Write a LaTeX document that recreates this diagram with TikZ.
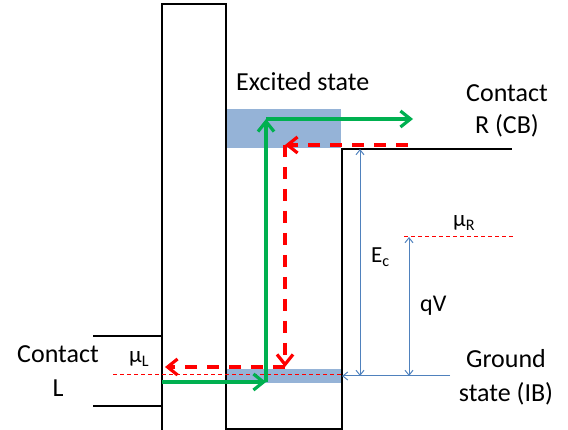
\documentclass[tikz,border=0pt]{standalone}
\usepackage{fontspec}
\setmainfont{Carlito}
\usetikzlibrary{arrows.meta}
\definecolor{gr}{HTML}{00B050}
\definecolor{rd}{HTML}{FF0000}
\definecolor{boxblue}{HTML}{95B3D7}
\definecolor{lineblue}{HTML}{4F81BD}
\begin{document}
\begin{tikzpicture}[x=1pt,y=-1pt,
  wall/.style={draw=black,line width=1.6pt},
  statebox/.style={fill=boxblue,draw=none,inner sep=0pt,outer sep=0pt,anchor=north west},
  greenarrow/.style={draw=gr,line width=3.2pt,-{Straight Barb[length=10pt,width=16pt]}},
  redarrow/.style={draw=rd,line width=3.2pt,dash pattern=on 12pt off 10pt,-{Straight Barb[length=10pt,width=16pt]}},
  level/.style={draw=rd,line width=1pt,dash pattern=on 4pt off 3pt},
  bluearrow/.style={draw=lineblue,line width=1pt,-{Straight Barb[length=5pt,width=8pt]}},
  bluearrows/.style={draw=lineblue,line width=1pt,{Straight Barb[length=5pt,width=8pt]}-{Straight Barb[length=5pt,width=8pt]}},
  lbl/.style={font=\fontsize{26}{31}\selectfont,inner sep=0pt,anchor=base},
  sym/.style={font=\fontsize{23}{27}\selectfont,inner sep=0pt,anchor=base west},
  sym2/.style={font=\fontsize{24}{28}\selectfont,inner sep=0pt,anchor=base west}
]
\useasboundingbox (0,0) rectangle (568,430);

% state boxes
\node[statebox,minimum width=114pt,minimum height=39pt] (excited) at (227,109) {};
\node[statebox,minimum width=115pt,minimum height=14pt] (ground) at (227,369) {};

% band edges
\draw[wall] (162,430) -- (162,4) -- (226,4) -- (226,429) -- (342,429) -- (342,149) -- (512,149);
\draw[wall] (93,336) -- (162,336);
\draw[wall] (93,406) -- (162,406);

% chemical potentials
\coordinate (muLa) at (113,375);
\coordinate (muLb) at (342,375);
\coordinate (muRa) at (404,237);
\coordinate (muRb) at (515,237);
\draw[level] (muLa) -- (muLb);
\draw[level] (muRa) -- (muRb);

% blue dimension arrows
\coordinate (gsLine) at (450,376);
\coordinate (gsTip) at (342,376);
\coordinate (ecTop) at (360,149);
\coordinate (ecBot) at (360,376);
\coordinate (qvTop) at (409,237);
\coordinate (qvBot) at (409,376);
\draw[bluearrow] (gsLine) -- (gsTip);
\draw[bluearrows] (ecTop) -- (ecBot);
\draw[bluearrows] (qvTop) -- (qvBot);

% green path
\coordinate (gL) at (162,382);
\coordinate (gUp) at (266,382);
\coordinate (gTop) at (266,119);
\coordinate (gR) at (413,119);
\draw[greenarrow] (gL) -- (gUp);
\draw[greenarrow] (gUp) -- (gTop);
\draw[greenarrow] (gTop) -- (gR);

% red path
\coordinate (rStart) at (408,145);
\coordinate (rCorner) at (285,145);
\coordinate (rDown) at (285,367);
\coordinate (rEnd) at (165,367);
\draw[redarrow] (rStart) -- (rCorner);
\draw[redarrow] (rCorner) -- (rDown);
\draw[redarrow] (rDown) -- (rEnd);

% labels
\node[lbl,anchor=base west] (excitedlbl) at (236,91) {Excited state};
\node[lbl] (contactR1) at (507,102) {Contact};
\node[lbl] (contactR2) at (507,134) {R (CB)};
\node[lbl] (ground1) at (506,368) {Ground};
\node[lbl] (ground2) at (506,402) {state (IB)};
\node[lbl] (contactL1) at (58,363) {Contact};
\node[lbl] (contactL2) at (58,397) {L};
\node[sym] (muL) at (129,363) {μ\textsubscript{L}};
\node[sym] (muR) at (453,227) {μ\textsubscript{R}};
\node[sym] (Ec) at (371,263) {E\textsubscript{c}};
\node[sym2] (qV) at (420,312) {qV};
\end{tikzpicture}
\end{document}
